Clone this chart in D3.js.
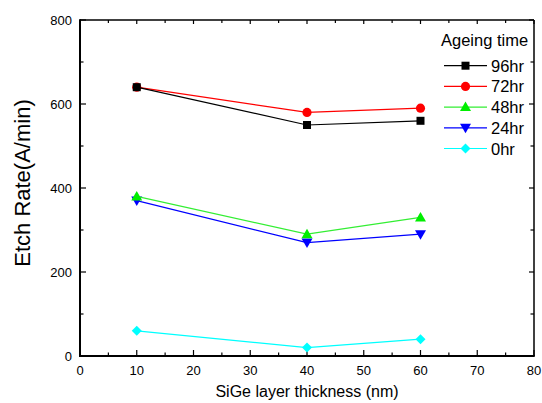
<!DOCTYPE html>
<html>
<head>
<meta charset="utf-8">
<script src="https://cdn.jsdelivr.net/npm/d3@7"></script>
<style>
  body { margin: 0; background: #fff; }
  svg { display: block; font-family: "Liberation Sans", Arial, sans-serif; }
</style>
</head>
<body>
<div class="panel"></div>
<script>
const thickness = [10, 40, 60];
const seriesNames = ["96hr", "72hr", "48hr", "24hr", "0hr"];
const rate96 = [640, 550, 560];
const rate72 = [640, 580, 590];
const rate48 = [380, 290, 330];
const rate24 = [370, 270, 290];
const rate0 = [60, 20, 40];
const xTicks = [0, 10, 20, 30, 40, 50, 60, 70, 80];
const yTicks = [0, 200, 400, 600, 800];

const colors = ["#000000", "#ff0000", "#00ee00", "#0000ff", "#00ffff"];
const lineColors = ["#000000", "#ff0000", "#33ee33", "#0000ff", "#00ffff"];
const shapes = ["square", "circle", "up", "down", "diamond"];
const allSeries = [rate96, rate72, rate48, rate24, rate0];

const width = 542, height = 403;
const pLeft = 80, pRight = 534, pTop = 20, pBottom = 356;

const svg = d3.select(".panel").append("svg")
  .attr("width", width).attr("height", height);

const x = d3.scaleLinear().domain([0, 80]).range([pLeft, pRight]);
const y = d3.scaleLinear().domain([0, 800]).range([pBottom, pTop]);

// ticks inside the frame
const minorX = d3.range(5, 80, 10);
const minorY = d3.range(100, 800, 200);
const tickG = svg.append("g").attr("stroke", "#000").attr("stroke-width", 1.2);
xTicks.forEach(v => {
  tickG.append("line").attr("x1", x(v)).attr("x2", x(v)).attr("y1", pBottom).attr("y2", pBottom - 6);
  tickG.append("line").attr("x1", x(v)).attr("x2", x(v)).attr("y1", pTop).attr("y2", pTop + 4);
});
minorX.forEach(v => {
  tickG.append("line").attr("x1", x(v)).attr("x2", x(v)).attr("y1", pBottom).attr("y2", pBottom - 3.5);
  tickG.append("line").attr("x1", x(v)).attr("x2", x(v)).attr("y1", pTop).attr("y2", pTop + 3);
});
yTicks.forEach(v => {
  tickG.append("line").attr("x1", pLeft).attr("x2", pLeft + 6).attr("y1", y(v)).attr("y2", y(v));
  tickG.append("line").attr("x1", pRight).attr("x2", pRight - 5).attr("y1", y(v)).attr("y2", y(v));
});
minorY.forEach(v => {
  tickG.append("line").attr("x1", pLeft).attr("x2", pLeft + 3.5).attr("y1", y(v)).attr("y2", y(v));
  tickG.append("line").attr("x1", pRight).attr("x2", pRight - 3.5).attr("y1", y(v)).attr("y2", y(v));
});

// frame
svg.append("line").attr("x1", pLeft).attr("x2", pRight).attr("y1", pTop).attr("y2", pTop)
  .attr("stroke", "#000").attr("stroke-width", 1.5);
svg.append("line").attr("x1", pRight).attr("x2", pRight).attr("y1", pTop).attr("y2", pBottom)
  .attr("stroke", "#000").attr("stroke-width", 1.5);
svg.append("line").attr("x1", pLeft).attr("x2", pLeft).attr("y1", pTop - 0.75).attr("y2", pBottom + 1)
  .attr("stroke", "#000").attr("stroke-width", 2);
svg.append("line").attr("x1", pLeft - 1).attr("x2", pRight + 0.75).attr("y1", pBottom).attr("y2", pBottom)
  .attr("stroke", "#000").attr("stroke-width", 2);

// tick labels
svg.append("g").selectAll("text").data(xTicks).join("text")
  .attr("x", d => x(d)).attr("y", 375)
  .attr("text-anchor", "middle").attr("font-size", 13).text(d => d);
svg.append("g").selectAll("text").data(yTicks).join("text")
  .attr("x", 72).attr("y", d => y(d) + 4.5)
  .attr("text-anchor", "end").attr("font-size", 13).text(d => d);

// axis titles
svg.append("text").attr("x", (pLeft + pRight) / 2).attr("y", 397)
  .attr("text-anchor", "middle").attr("font-size", 16).text("SiGe layer thickness (nm)");
svg.append("text").attr("transform", "translate(29.5,183) rotate(-90)")
  .attr("text-anchor", "middle").attr("font-size", 22).text("Etch Rate(A/min)");

function marker(g, shape, color, cx, cy) {
  let d;
  if (shape === "square") d = "M-4,-4H4V4H-4Z";
  else if (shape === "circle") d = d3.symbol(d3.symbolCircle, 66)();
  else if (shape === "up") d = "M0,-5.5L5.5,4L-5.5,4Z";
  else if (shape === "down") d = "M0,5.5L5.5,-4L-5.5,-4Z";
  else d = "M0,-5L5,0L0,5L-5,0Z";
  g.append("path").attr("d", d)
    .attr("transform", `translate(${cx},${cy})`)
    .attr("fill", color);
}

const line = d3.line().x((d, i) => x(thickness[i])).y(d => y(d));

// draw bottom series first so black/red on top
for (let s = allSeries.length - 1; s >= 0; s--) {
  const g = svg.append("g");
  g.append("path").datum(allSeries[s]).attr("d", line)
    .attr("fill", "none").attr("stroke", lineColors[s]).attr("stroke-width", 1.2);
  allSeries[s].forEach((v, i) => marker(g, shapes[s], colors[s], x(thickness[i]), y(v)));
}

// legend
const lg = svg.append("g");
lg.append("text").attr("x", 441).attr("y", 46).attr("font-size", 16.5).text("Ageing time");
seriesNames.forEach((name, i) => {
  const cy = 65.7 + i * 20.7;
  lg.append("line").attr("x1", 444).attr("x2", 487).attr("y1", cy).attr("y2", cy)
    .attr("stroke", lineColors[i]).attr("stroke-width", 1.2);
  marker(lg, shapes[i], colors[i], 465.5, cy);
  lg.append("text").attr("x", 491).attr("y", cy + 6).attr("font-size", 16.5).text(name);
});
</script>
</body>
</html>
